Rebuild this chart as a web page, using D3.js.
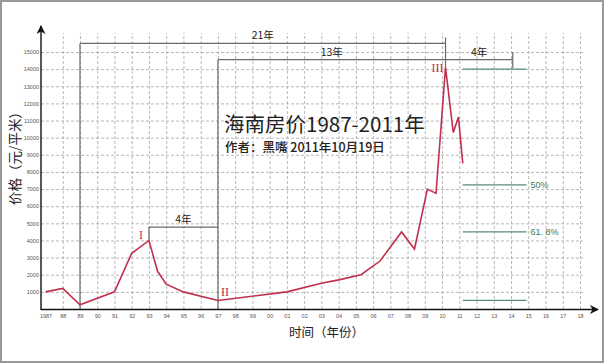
<!DOCTYPE html>
<html>
<head>
<meta charset="utf-8">
<script src="https://cdn.jsdelivr.net/npm/d3@7"></script>
<style>
  body { margin: 0; background: #fff; }
  svg { display: block; font-family: "Liberation Sans", Arial, sans-serif; }
  .grid line { stroke: #a6a6a6; stroke-dasharray: 3,2; stroke-width: 0.8; }
  .grid path { display: none; }
  .tick text { fill: #555; }
  .cjk { font-family: "Noto Sans CJK SC", sans-serif; fill: #222; }
  .roman { font-family: "Liberation Serif", "Times New Roman", serif; fill: #c0304e; font-size: 12px; }
</style>
</head>
<body>
<svg width="607" height="364"></svg>
<script>
// price series (yuan / m2)
const years  = [1987, 1988, 1989, 1991, 1992, 1993, 1993.5, 1994, 1995, 1997, 2001, 2003, 2004, 2005.3, 2006.4, 2007.65, 2008.4, 2009.15, 2009.65, 2010.2, 2010.65, 2010.95, 2011.2];
const prices = [1000, 1200, 250, 1000, 3250, 4000, 2200, 1450, 1000, 500, 1000, 1500, 1700, 2000, 2800, 4500, 3500, 7000, 6750, 14100, 10300, 11200, 8500];

const xTicks = d3.range(1987, 2019);
const xTickLabels = xTicks.map(y => y === 1987 ? '1987' : String(y % 100).padStart(2, '0'));
const yTicks = d3.range(1000, 15001, 1000);

// cycle brackets: start year, end year, level, label
const spanStart = [1989, 1997, 2010.2, 1993];
const spanEnd   = [2010.2, 2010.2, 2014.1, 1997];
const spanLevel = [15500, 14550, 14550, 4780];
const spanLabel = ['21年', '13年', '4年', '4年'];

// retracement levels
const levels = [14000, 7250, 4500, 500];
const levelLabels = ['', '50%', '61. 8%', ''];
const levelFrom = 2011.2, levelTo = 2014.9;

const svg = d3.select('svg');

const x = d3.scaleLinear().domain([1987, 2018]).range([45.5, 580]);
const y = d3.scaleLinear().domain([0, 15000]).range([309, 52]);
const axisX = 41;

// frame
svg.append('rect')
  .attr('x', 1).attr('y', 1).attr('width', 602).attr('height', 361)
  .attr('fill', 'none').attr('stroke', '#999').attr('stroke-width', 2);

// grid
svg.append('g')
  .attr('class', 'grid')
  .attr('transform', `translate(${axisX}, 0)`)
  .call(d3.axisLeft(y).tickValues(yTicks).tickSize(-(583 - axisX)).tickFormat(''));

svg.append('g')
  .attr('class', 'grid')
  .attr('transform', `translate(0, ${y(0)})`)
  .call(d3.axisBottom(x).tickValues(xTicks.slice(1)).tickSize(-(y(0) - 33)).tickFormat(''));

// tick labels
const yAxis = svg.append('g')
  .attr('transform', `translate(${axisX - 1}, 0)`)
  .call(d3.axisLeft(y).tickValues(yTicks).tickSize(0).tickPadding(1).tickFormat(d3.format('d')));
yAxis.select('.domain').remove();
yAxis.selectAll('text').attr('font-size', 5.5);

const xAxis = svg.append('g')
  .attr('transform', `translate(0, ${y(0) + 5})`)
  .call(d3.axisBottom(x).tickValues(xTicks).tickSize(0).tickPadding(0)
    .tickFormat((d, i) => xTickLabels[i]));
xAxis.select('.domain').remove();
xAxis.selectAll('text').attr('font-size', 5.5);

// axes with arrows
svg.append('defs').append('marker')
  .attr('id', 'arrow')
  .attr('viewBox', '0 0 10 10')
  .attr('refX', 9).attr('refY', 5)
  .attr('markerWidth', 9).attr('markerHeight', 9)
  .attr('markerUnits', 'userSpaceOnUse')
  .attr('orient', 'auto')
  .append('path').attr('d', 'M0,0L10,5L0,10L3,5Z').attr('fill', '#111');

svg.append('line')
  .attr('x1', axisX).attr('y1', y(0) + 1).attr('x2', axisX).attr('y2', 26)
  .attr('stroke', '#111').attr('stroke-width', 1.4).attr('marker-end', 'url(#arrow)');
svg.append('line')
  .attr('x1', axisX).attr('y1', y(0) + 0.5).attr('x2', 598).attr('y2', y(0) + 0.5)
  .attr('stroke', '#111').attr('stroke-width', 1.4).attr('marker-end', 'url(#arrow)');

// brackets
const gray = '#6a6a6a';
const brackets = svg.append('g').attr('stroke', gray).attr('stroke-width', 1.2).attr('fill', 'none');
spanStart.forEach((s, i) => {
  brackets.append('line')
    .attr('x1', x(s)).attr('x2', x(spanEnd[i]))
    .attr('y1', y(spanLevel[i])).attr('y2', y(spanLevel[i]));
  svg.append('text')
    .attr('class', 'cjk')
    .attr('x', (x(s) + x(spanEnd[i])) / 2)
    .attr('y', y(spanLevel[i]) - 4)
    .attr('text-anchor', 'middle')
    .attr('font-size', 10.5)
    .text(spanLabel[i]);
});
// vertical legs
brackets.append('line').attr('x1', x(1989)).attr('x2', x(1989)).attr('y1', y(15500)).attr('y2', y(0));
brackets.append('line').attr('x1', x(1997)).attr('x2', x(1997)).attr('y1', y(14550)).attr('y2', y(0));
brackets.append('line').attr('x1', x(2010.2)).attr('x2', x(2010.2)).attr('y1', y(15850)).attr('y2', y(14100));
brackets.append('line').attr('x1', x(2014.1)).attr('x2', x(2014.1)).attr('y1', y(15000)).attr('y2', y(14050));
brackets.append('line').attr('x1', x(1993)).attr('x2', x(1993)).attr('y1', y(4780)).attr('y2', y(4000));

// retracement levels
const green = '#5b8c76';
levels.forEach((v, i) => {
  svg.append('line')
    .attr('x1', x(levelFrom)).attr('x2', x(levelTo))
    .attr('y1', y(v)).attr('y2', y(v))
    .attr('stroke', green).attr('stroke-width', 1.2);
  if (levelLabels[i]) {
    svg.append('text')
      .attr('x', x(levelTo) + 4)
      .attr('y', y(v) + 3)
      .attr('font-size', 9)
      .attr('fill', '#3f7a5e')
      .text(levelLabels[i]);
  }
});

// price line
const line = d3.line().x((d, i) => x(years[i])).y(d => y(d));
svg.append('path')
  .datum(prices)
  .attr('d', line)
  .attr('fill', 'none')
  .attr('stroke', '#c0304e')
  .attr('stroke-width', 1.6)
  .attr('stroke-linejoin', 'miter');

// wave labels
svg.append('text').attr('class', 'roman').attr('x', x(1993) - 6).attr('y', y(4000) - 1)
  .attr('text-anchor', 'end').text('I');
svg.append('text').attr('class', 'roman').attr('x', x(1997) + 3).attr('y', y(500) - 4)
  .text('II');
svg.append('text').attr('class', 'roman').attr('x', x(2010.2) - 2).attr('y', y(14100) + 5)
  .attr('text-anchor', 'end').text('III');

// titles
svg.append('text').attr('class', 'cjk')
  .attr('x', 224).attr('y', 132)
  .attr('font-size', 20.5)
  .text('海南房价1987-2011年');
svg.append('text').attr('class', 'cjk')
  .attr('x', 225).attr('y', 152)
  .attr('font-size', 12.5).attr('font-weight', 500)
  .text('作者：黑嘴 2011年10月19日');

// axis titles
svg.append('text').attr('class', 'cjk')
  .attr('transform', 'translate(20, 155) rotate(-90)')
  .attr('text-anchor', 'middle')
  .attr('font-size', 13.5)
  .text('价格（元/平米）');
svg.append('text').attr('class', 'cjk')
  .attr('x', 289).attr('y', 337)
  .attr('font-size', 12.5)
  .text('时间（年份）');
</script>
</body>
</html>
